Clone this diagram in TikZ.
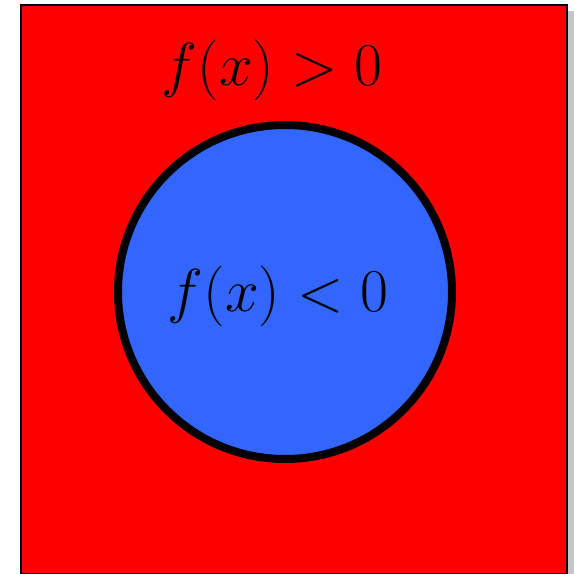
\documentclass[tikz,border=0pt]{standalone}
\usepackage{graphicx}
\usetikzlibrary{shadows}
\usepackage{xcolor}
\definecolor{regionred}{RGB}{255,0,0}
\definecolor{regionblue}{RGB}{51,102,255}

\begin{document}
\begin{tikzpicture}[x=0.5pt, y=-0.5pt,
        outer/.style={draw=black, line width=1.2pt, fill=regionred, drop shadow={shadow xshift=3.5pt, shadow yshift=-3pt, opacity=0.45}},
        inner/.style={draw=black, line width=4pt, fill=regionblue},
        label/.style={anchor=base, inner sep=0pt, font=\fontsize{24.88}{30}\selectfont}]

        \useasboundingbox (0,0) rectangle (574,574);

        \node [outer, rectangle, minimum width=273pt, minimum height=284.5pt, anchor=north west] (domain) at (20,4) {};

        \node [inner, circle, minimum size=167pt, inner sep=0pt] (ball) at (285,292) {};

        \node [label] (pos) at (272,85) {\scalebox{1.22}{$f(x) > 0$}};
        \node [label] (neg) at (278,311) {\scalebox{1.22}{$f(x) < 0$}};
    \end{tikzpicture}
\end{document}
